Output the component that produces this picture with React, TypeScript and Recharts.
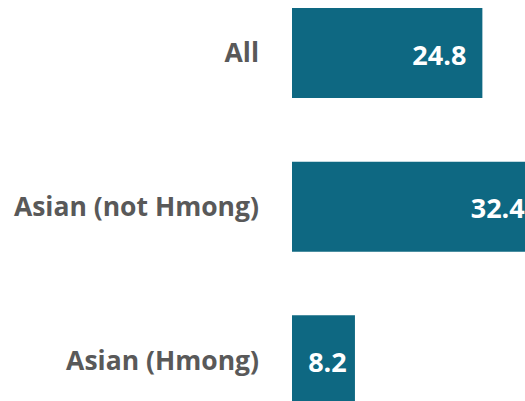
import React from 'react'
import { Bar, BarChart, XAxis, YAxis, LabelList } from 'recharts'

const groups = ['All', 'Asian (not Hmong)', 'Asian (Hmong)']
const values = [24.8, 32.4, 8.2]

const data = groups.map((g, i) => ({ group: g, value: values[i] }))

const FONT = '"Open Sans", Calibri, sans-serif'

const ValueLabel = (props: any) => {
   const { x, y, width, height, value } = props
   const pad = Math.min(16, width * 0.13)
   return (
      <text
         x={x + width - pad}
         y={y + height / 2 + 1}
         textAnchor="end"
         dominantBaseline="central"
         fill="#ffffff"
         fontSize={27}
         fontWeight="bold"
         fontFamily={FONT}
      >
         {value}
      </text>
   )
}

const App: React.FC = () => {
   return (
      <div style={{ position: 'absolute', left: 0, top: 0, width: 525, height: 401, overflow: 'hidden', background: '#fff' }}>
         <div style={{ position: 'absolute', left: 0, top: -24 }}>
            <BarChart
               width={553}
               height={461}
               data={data}
               layout="vertical"
               margin={{ top: 0, right: 0, bottom: 0, left: 0 }}
               barSize={90}
            >
               <XAxis type="number" domain={[0, 34]} hide />
               <YAxis
                  type="category"
                  dataKey="group"
                  width={292}
                  axisLine={false}
                  tickLine={false}
                  tickSize={0}
                  tickMargin={33}
                  tick={{ fontSize: 26.5, fontWeight: 'bold', fill: '#595959', fontFamily: FONT }}
               />
               <Bar dataKey="value" fill="#0E6882" isAnimationActive={false}>
                  <LabelList dataKey="value" content={ValueLabel} />
               </Bar>
            </BarChart>
         </div>
      </div>
   )
}

export default App
